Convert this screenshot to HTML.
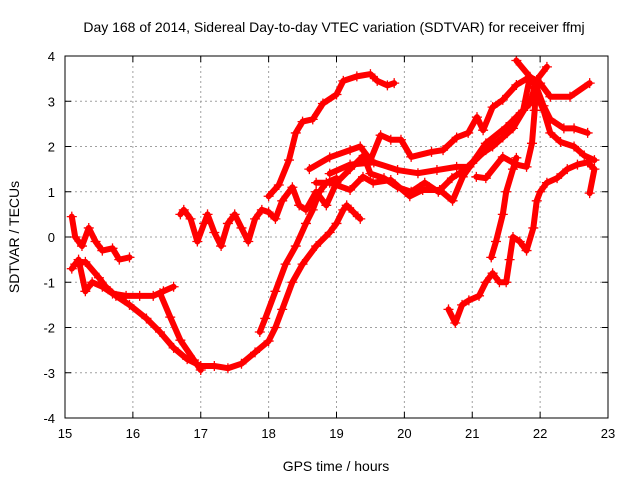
<!DOCTYPE html>
<html><head><meta charset="utf-8"><style>
body{margin:0;background:#fff}
svg{display:block;font-family:"Liberation Sans",sans-serif}
</style></head><body>
<svg id="chart" width="640" height="480">
<text x="334" y="32" font-size="14" text-anchor="middle">Day 168 of 2014, Sidereal Day-to-day VTEC variation (SDTVAR) for receiver ffmj</text>
<text x="336" y="471" font-size="14" text-anchor="middle">GPS time / hours</text>
<text transform="translate(19,237) rotate(-90)" font-size="14" text-anchor="middle">SDTVAR / TECUs</text>
<g id="grid"></g><g id="series"></g><g id="axes"></g>
</svg>
<script>
const xTicks=[15,16,17,18,19,20,21,22,23];
const yTicks=[-4,-3,-2,-1,0,1,2,3,4];
const traceA=[[15.1,0.45],[15.15,0.0],[15.25,-0.2],[15.35,0.2],[15.45,-0.1],[15.55,-0.3],[15.7,-0.25],[15.8,-0.5],[15.95,-0.45]];
const traceB=[[15.1,-0.7],[15.2,-0.5],[15.3,-1.2],[15.4,-1.0],[15.55,-1.1],[15.7,-1.25],[15.9,-1.3],[16.1,-1.3],[16.3,-1.3],[16.45,-1.2],[16.6,-1.1]];
const traceB2=[[16.4,-1.24],[16.55,-1.77],[16.7,-2.28],[16.9,-2.72],[17.0,-2.94]];
const traceC=[[15.15,-0.6],[15.3,-0.55],[15.5,-0.9],[15.6,-1.1],[15.75,-1.3],[15.95,-1.5],[16.2,-1.8],[16.4,-2.1],[16.6,-2.45],[16.8,-2.7],[17.0,-2.85],[17.2,-2.85],[17.4,-2.9],[17.6,-2.8],[17.8,-2.55],[18.0,-2.3],[18.1,-2.0],[18.2,-1.6],[18.35,-1.0],[18.5,-0.6],[18.7,-0.2],[18.9,0.1],[19.0,0.3],[19.1,0.6],[19.15,0.7],[19.25,0.55],[19.35,0.4]];
const traceW=[[16.7,0.5],[16.75,0.6],[16.85,0.4],[16.95,-0.1],[17.05,0.3],[17.1,0.5],[17.2,0.1],[17.3,-0.2],[17.4,0.3],[17.5,0.5],[17.6,0.2],[17.7,-0.1],[17.8,0.4],[17.9,0.6],[18.0,0.55],[18.1,0.4],[18.2,0.8],[18.35,1.1],[18.45,0.7],[18.55,0.6],[18.7,1.0],[18.85,0.7],[19.0,1.2],[19.2,1.5],[19.4,1.8],[19.5,1.4],[19.7,1.3],[19.9,1.1],[20.1,1.0],[20.3,1.2],[20.5,1.0],[20.7,1.3],[20.9,1.5],[21.1,1.8],[21.3,2.0],[21.6,2.4],[21.8,2.9]];
const traceTop=[[18.0,0.9],[18.15,1.15],[18.3,1.7],[18.4,2.3],[18.5,2.55],[18.65,2.6],[18.8,2.95],[19.0,3.15],[19.1,3.45],[19.3,3.55],[19.5,3.6],[19.6,3.45],[19.75,3.35],[19.85,3.4]];
const traceRise=[[17.87,-2.1],[17.95,-1.8],[18.1,-1.2],[18.25,-0.6],[18.4,-0.2],[18.55,0.3],[18.65,0.6],[18.75,1.0],[18.85,1.2],[19.0,1.3]];
const traceD=[[18.6,1.5],[18.9,1.76],[19.2,1.92],[19.35,2.0],[19.5,1.7],[19.65,2.25],[19.8,2.15],[19.95,2.15],[20.1,1.77],[20.4,1.88],[20.57,1.92],[20.77,2.2],[20.94,2.3],[21.07,2.65],[21.16,2.36],[21.3,2.87],[21.45,3.03],[21.65,3.36],[21.85,3.54],[22.0,3.4],[22.15,3.1],[22.44,3.1],[22.73,3.4]];
const traceE=[[18.7,1.2],[18.9,1.2],[19.2,1.04],[19.39,1.33],[19.54,1.2],[19.8,1.26],[20.08,0.9],[20.27,1.04],[20.52,1.04],[20.71,0.8],[20.86,1.33],[21.0,1.63],[21.2,1.92],[21.45,2.2],[21.65,2.65],[21.85,2.95],[21.95,3.47],[22.1,3.76]];
const traceF=[[18.9,1.4],[19.2,1.6],[19.55,1.65],[19.9,1.48],[20.2,1.41],[20.48,1.48],[20.77,1.55],[20.96,1.55],[21.2,2.07],[21.5,2.43],[21.75,2.8],[21.85,3.54],[21.65,3.9]];
const traceG=[[21.85,3.5],[21.95,3.3],[22.05,2.9],[22.15,2.6],[22.35,2.4],[22.5,2.4],[22.7,2.3]];
const traceH=[[21.9,3.3],[22.05,2.8],[22.15,2.3],[22.3,2.1],[22.5,2.0],[22.65,1.8],[22.8,1.7]];
const traceI=[[21.06,1.33],[21.2,1.3],[21.45,1.77],[21.65,1.6],[21.8,1.55],[21.88,2.07],[21.92,2.8],[21.93,3.1]];
const traceJ=[[20.65,-1.6],[20.75,-1.9],[20.85,-1.5],[20.95,-1.4],[21.1,-1.3],[21.2,-1.0],[21.3,-0.8],[21.4,-1.0],[21.5,-1.0],[21.55,-0.5],[21.6,0.0],[21.7,-0.1],[21.8,-0.3],[21.9,0.2],[21.95,0.8],[22.0,1.0],[22.1,1.2],[22.25,1.3],[22.4,1.5],[22.55,1.6],[22.7,1.65],[22.8,1.5],[22.73,0.97]];
const traceK=[[21.28,-0.45],[21.35,-0.1],[21.45,0.5],[21.5,1.0],[21.6,1.5],[21.65,1.75]];
const traces=[traceA,traceB,traceB2,traceC,traceW,traceTop,traceRise,traceD,traceE,traceF,traceG,traceH,traceI,traceJ,traceK];

const L=65,R=608,T=56,B=418,NS="http://www.w3.org/2000/svg";
const sx=t=>L+(t-15)/8*(R-L);
const sy=v=>B-(v+4)/8*(B-T);
function mk(tag,attrs,parent){const e=document.createElementNS(NS,tag);for(const k in attrs)e.setAttribute(k,attrs[k]);parent.appendChild(e);return e;}
const grid=document.getElementById('grid'),axes=document.getElementById('axes'),ser=document.getElementById('series');
xTicks.forEach(t=>{const x=sx(t);
 if(t>15&&t<23){const g=mk('line',{x1:x,x2:x,y1:T,y2:B,stroke:'#a0a0a0','stroke-dasharray':'2,3'},grid);}
 mk('line',{x1:x,x2:x,y1:B,y2:B-6,stroke:'#000'},axes);mk('line',{x1:x,x2:x,y1:T,y2:T+6,stroke:'#000'},axes);
 const l=mk('text',{x:x,y:B+20,'font-size':13,'text-anchor':'middle'},axes);l.textContent=t;
 });
yTicks.forEach(v=>{const y=sy(v);
 if(v>-4&&v<4){const g=mk('line',{x1:L,x2:R,y1:y,y2:y,stroke:'#a0a0a0','stroke-dasharray':'2,3'},grid);}
 mk('line',{x1:L,x2:L+6,y1:y,y2:y,stroke:'#000'},axes);mk('line',{x1:R,x2:R-6,y1:y,y2:y,stroke:'#000'},axes);
 const l=mk('text',{x:L-10,y:y+5,'font-size':13,'text-anchor':'end'},axes);l.textContent=v;
 });
const fr=mk('rect',{x:L,y:T,width:R-L,height:B-T,fill:'none',stroke:'#000'},axes);

traces.forEach((tr,i)=>{
 const g=mk('g',{},ser);
 
 mk('polyline',{points:tr.map(p=>sx(p[0])+','+sy(p[1])).join(' '),fill:'none',stroke:'#f00','stroke-width':6,'stroke-linejoin':'round','stroke-linecap':'round'},g);
 let d='';tr.forEach(p=>{const x=sx(p[0]),y=sy(p[1]);d+=`M${x-5},${y}h10M${x},${y-5}v10`;});
 const m=mk('path',{d:d,stroke:'#f00','stroke-width':1.3},g);
 
});
</script>
</body></html>
